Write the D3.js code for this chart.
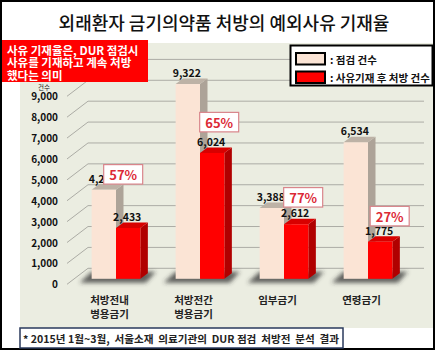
<!DOCTYPE html>
<html>
<head>
<meta charset="utf-8">
<script src="https://cdn.jsdelivr.net/npm/d3@7/dist/d3.min.js"></script>
<style>
  body { margin: 0; background: #fff; }
  svg { display: block; font-family: "Noto Sans CJK KR", "Noto Sans", sans-serif; }
</style>
</head>
<body>
<div id="chart"></div>
<script>
// chart data
const categories = [["처방전내", "병용금기"], ["처방전간", "병용금기"], ["임부금기"], ["연령금기"]];
const checkedCounts = [4262, 9322, 3388, 6534];   // 점검 건수
const recordedCounts = [2433, 6024, 2612, 1775];  // 사유기재 후 처방 건수
const yTickValues = [0, 1000, 2000, 3000, 4000, 5000, 6000, 7000, 8000, 9000];
const seriesNames = [": 점검 건수", ": 사유기재 후 처방 건수"];

const W = 437, H = 354;

const svg = d3.select("#chart").append("svg")
  .attr("width", W)
  .attr("height", H);

// shadow blur
const defs = svg.append("defs");
defs.append("filter").attr("id", "blur")
  .attr("x", "-50%").attr("y", "-50%").attr("width", "200%").attr("height", "200%")
  .append("feGaussianBlur").attr("stdDeviation", 2);

// outer frame
svg.append("rect")
  .attr("x", 1).attr("y", 1).attr("width", 433).attr("height", 348)
  .attr("fill", "#fff").attr("stroke", "#000").attr("stroke-width", 2);

// title
svg.append("text")
  .attr("x", 224).attr("y", 22)
  .attr("text-anchor", "middle").attr("dominant-baseline", "central")
  .attr("font-size", 18).attr("font-weight", 500).attr("fill", "#111")
  .text("외래환자 금기의약품 처방의 예외사유 기재율");

// plot background
svg.append("rect")
  .attr("x", 20).attr("y", 43).attr("width", 413).attr("height", 285)
  .attr("fill", "#ebede1");

// scales on the back wall
const x = d3.scaleBand().domain(d3.range(categories.length)).range([88, 424]);
const y = d3.scaleLinear().domain([0, 10000]).range([268.3, 59.4]);

// depth of the 3d floor (back wall -> front edge)
const depthX = -21, depthY = 16;
// bars sit part way into the floor
const barShiftX = -14, barShiftY = 10.5;
const barDX = 7.5, barDY = 5.5;
const barW = x.bandwidth() * 0.29;

// gridlines + diagonals
const gridVals = d3.range(0, 10001, 1000);
const grid = svg.append("g").attr("stroke", "#acaca5").attr("stroke-width", 1).attr("fill", "none");
grid.selectAll("line.h").data(gridVals).enter().append("line")
  .attr("x1", x.range()[0]).attr("x2", x.range()[1])
  .attr("y1", d => y(d)).attr("y2", d => y(d));
grid.selectAll("line.d").data(gridVals).enter().append("line")
  .attr("x1", x.range()[0] + depthX).attr("y1", d => y(d) + depthY)
  .attr("x2", x.range()[0]).attr("y2", d => y(d));

// y tick labels
svg.append("g").selectAll("text").data(yTickValues).enter().append("text")
  .attr("x", 58).attr("y", d => y(d) + 15.5)
  .attr("text-anchor", "end").attr("dominant-baseline", "central")
  .attr("font-size", 10).attr("font-weight", "bold").attr("fill", "#111")
  .text(d3.format(","));

svg.append("text")
  .attr("x", 44).attr("y", 86.5)
  .attr("text-anchor", "middle").attr("dominant-baseline", "central")
  .attr("font-size", 6.5).attr("fill", "#222")
  .text("건수");

// bar helpers
const base = y(0) + barShiftY;
function frontLeft(i, k) { return x(i) + x.bandwidth() / 2 + barShiftX - barW + k * barW; }
function topY(v) { return y(v) + barShiftY; }

const colors = [
  { front: "#fbe4d5", top: "#bdb2a6", side: "#ada398" },
  { front: "#ff0000", top: "#d80000", side: "#b00000" }
];

// floor shadows
const shadows = svg.append("g").attr("filter", "url(#blur)");
categories.forEach((c, i) => {
  const x0 = frontLeft(i, 0), x1 = frontLeft(i, 1) + barW + barDX;
  shadows.append("path")
    .attr("d", `M${x0 - 12},${base + 4} L${x1 - 2},${base + 4} L${x1 + 8},${base - 7} L${x0},${base - 7} Z`)
    .attr("fill", "#333").attr("opacity", 0.75);
});

// 3d bars
const bars = svg.append("g");
[checkedCounts, recordedCounts].forEach((vals, k) => {
  vals.forEach((v, i) => {
    const x0 = frontLeft(i, k), x1 = x0 + barW, yt = topY(v);
    const g = bars.append("g");
    g.append("path")
      .attr("d", `M${x1},${yt} L${x1},${base} L${x1 + barDX},${base - barDY} L${x1 + barDX},${yt - barDY} Z`)
      .attr("fill", colors[k].side);
    g.append("path")
      .attr("d", `M${x0},${yt} L${x1},${yt} L${x1 + barDX},${yt - barDY} L${x0 + barDX},${yt - barDY} Z`)
      .attr("fill", colors[k].top);
    g.append("rect")
      .attr("x", x0).attr("y", yt).attr("width", barW).attr("height", base - yt)
      .attr("fill", colors[k].front);
  });
});

// value labels
const labels = svg.append("g")
  .attr("font-size", 10.5).attr("font-weight", "bold").attr("fill", "#111")
  .attr("text-anchor", "middle").attr("dominant-baseline", "central");
[checkedCounts, recordedCounts].forEach((vals, k) => {
  vals.forEach((v, i) => {
    labels.append("text")
      .attr("x", frontLeft(i, k) + barW / 2 - 1)
      .attr("y", topY(v) - barDY - 6)
      .text(d3.format(",")(v));
  });
});

// rate boxes (placed by hand in the original)
const rateBoxAt = [[-5, 5000], [7, 7500], [7, 3900], [9.5, 3000]];
recordedCounts.forEach((v, i) => {
  const rate = Math.round(v / checkedCounts[i] * 100);
  const cx = frontLeft(i, 1) + barW / 2 + rateBoxAt[i][0];
  const cy = topY(rateBoxAt[i][1]);
  svg.append("rect")
    .attr("x", cx - 19.5).attr("y", cy - 9.75).attr("width", 39).attr("height", 19.5)
    .attr("fill", "#fff").attr("stroke", "#d9858b").attr("stroke-width", 1.2);
  svg.append("text")
    .attr("x", cx).attr("y", cy + 0.5)
    .attr("text-anchor", "middle").attr("dominant-baseline", "central")
    .attr("font-size", 13).attr("font-weight", "bold").attr("fill", "#dc2a36")
    .text(rate + "%");
});

// category labels on the front edge
const cats = svg.append("g")
  .attr("font-size", 10.5).attr("font-weight", "bold").attr("fill", "#222")
  .attr("text-anchor", "middle").attr("dominant-baseline", "central");
categories.forEach((lines, i) => {
  const cx = x(i) + x.bandwidth() / 2 + depthX + 0.5;
  lines.forEach((t, j) => {
    cats.append("text").attr("x", cx).attr("y", 299.5 + j * 14).text(t);
  });
});

// red note box
svg.append("rect")
  .attr("x", 2).attr("y", 40).attr("width", 146).attr("height", 42)
  .attr("fill", "#ff0000");
["사유 기재율은, DUR 점검시", "사유를 기재하고 계속 처방", "했다는 의미"].forEach((t, j) => {
  svg.append("text")
    .attr("x", 7).attr("y", 49.5 + j * 12.5)
    .attr("dominant-baseline", "central")
    .attr("font-size", 11.5).attr("font-weight", "bold").attr("fill", "#fff")
    .text(t);
});

// legend
const legend = svg.append("g");
legend.append("rect")
  .attr("x", 290.5).attr("y", 45.5).attr("width", 142).attr("height", 40)
  .attr("fill", "#fff").attr("stroke", "#000").attr("stroke-width", 2);
seriesNames.forEach((name, k) => {
  legend.append("rect")
    .attr("x", 296).attr("y", 53 + k * 18.5).attr("width", 29).attr("height", 11.5)
    .attr("fill", colors[k].front).attr("stroke", "#000").attr("stroke-width", 2);
  legend.append("text")
    .attr("x", 330).attr("y", 59 + k * 18.5)
    .attr("dominant-baseline", "central")
    .attr("font-size", 10.5).attr("font-weight", "bold").attr("fill", "#111")
    .text(name);
});

// footnote
svg.append("rect")
  .attr("x", 20).attr("y", 328).attr("width", 323).attr("height", 20)
  .attr("fill", "#fff").attr("stroke", "#2a3a5c").attr("stroke-width", 1.5);
svg.append("text")
  .attr("x", 23).attr("y", 338.5)
  .attr("xml:space", "preserve")
  .attr("dominant-baseline", "central")
  .attr("font-size", 10.6).attr("font-weight", "bold").attr("fill", "#222")
  .text("* 2015년 1월~3월,  서울소재  의료기관의  DUR 점검  처방전  분석  결과");
</script>
</body>
</html>
